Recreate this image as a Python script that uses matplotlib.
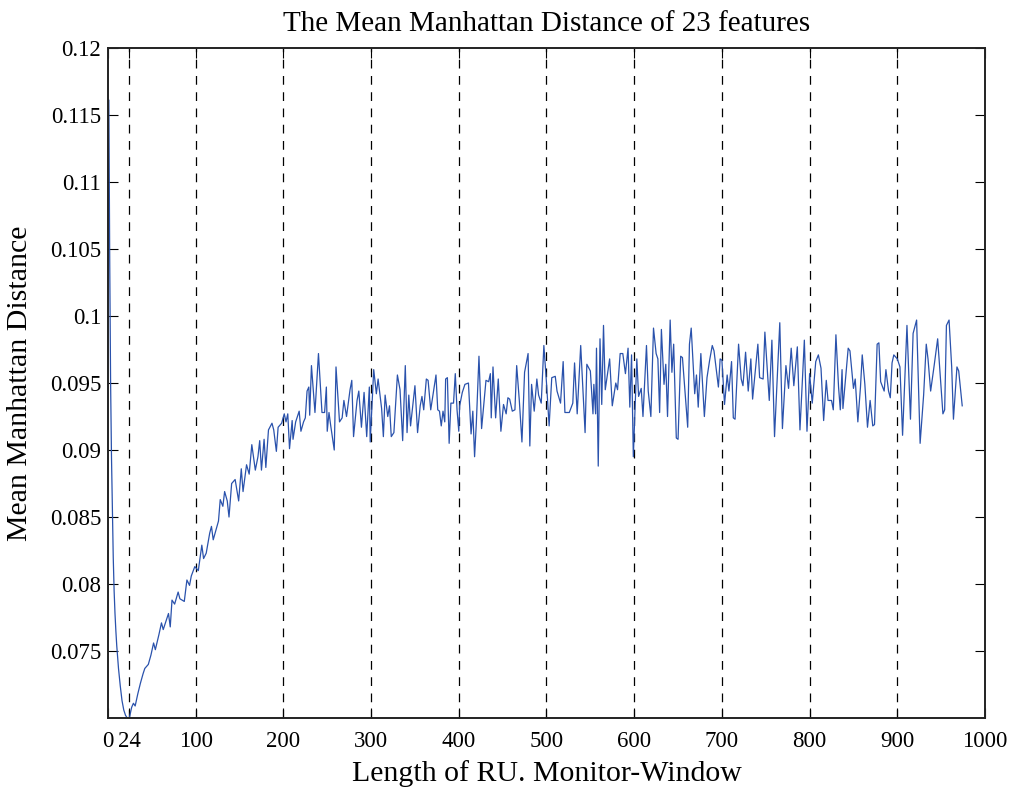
import matplotlib
matplotlib.use("Agg")
import matplotlib.pyplot as plt

plt.rcParams['font.family'] = ['Liberation Serif', 'DejaVu Serif']

# window length and mean Manhattan distance over the 23 features
win_len = [
    1, 2, 3, 4, 5, 6, 7, 8, 9, 10, 11, 12, 14, 16, 18, 20, 22, 24,
    27, 29, 31, 34, 37, 40, 42, 46, 49, 52, 54, 58, 61, 63, 66, 69, 71, 73, 76, 80, 82, 87,
    90, 93, 95, 99, 103, 107, 109, 112, 116, 118, 120, 123, 126, 128, 131, 133, 136, 138,
    141, 145, 149, 152, 154, 158, 161, 164, 168, 171, 173, 175, 178, 180, 183, 187, 189,
    192, 194, 198, 201, 203, 205, 207, 210, 211, 214, 218, 220, 223, 225, 227, 229, 230,
    232, 236, 240, 244, 247, 249, 250, 252, 254, 258, 260, 264, 267, 269, 272, 276, 278,
    280, 284, 286, 289, 292, 295, 298, 299, 303, 306, 308, 312, 314, 316, 319, 321, 323,
    326, 330, 333, 336, 339, 341, 343, 345, 350, 353, 356, 358, 360, 363, 365, 368, 371,
    374, 376, 378, 380, 382, 384, 385, 387, 389, 391, 394, 396, 398, 400, 401, 404, 407,
    411, 414, 416, 418, 420, 423, 426, 431, 434, 436, 437, 439, 442, 445, 448, 451, 454,
    456, 458, 461, 464, 466, 469, 472, 475, 479, 481, 483, 486, 489, 491, 494, 497, 500,
    503, 506, 510, 512, 516, 519, 521, 526, 530, 532, 535, 539, 544, 546, 550, 553, 554,
    556, 557, 559, 561, 563, 565, 567, 572, 575, 579, 581, 584, 587, 590, 593, 595, 597,
    599, 603, 605, 608, 610, 614, 616, 619, 622, 625, 627, 629, 631, 634, 636, 638, 641,
    643, 645, 648, 650, 653, 655, 657, 661, 663, 665, 669, 671, 673, 676, 680, 683, 686,
    689, 691, 696, 698, 700, 703, 706, 708, 711, 713, 715, 719, 722, 724, 727, 730, 733,
    735, 741, 743, 747, 749, 754, 757, 760, 766, 769, 773, 776, 779, 782, 786, 789, 794,
    797, 800, 803, 807, 810, 813, 816, 819, 821, 825, 827, 830, 833, 835, 837, 838, 844,
    846, 850, 852, 855, 858, 860, 863, 866, 869, 872, 874, 877, 879, 881, 885, 887, 890,
    892, 894, 896, 900, 903, 906, 911, 915, 918, 922, 926, 930, 933, 935, 938, 942, 946,
    949, 952, 954, 956, 959, 962, 964, 968, 970, 974,
]
mean_dist = [
    0.1161, 0.1040, 0.0950, 0.0895, 0.0855, 0.0820, 0.0795, 0.0778, 0.0765, 0.0754,
    0.0745, 0.0737, 0.0724, 0.0713, 0.0706, 0.0702, 0.0700, 0.0699,
    0.0708, 0.0711, 0.0709, 0.0718, 0.0726, 0.0733, 0.0737, 0.0740, 0.0747, 0.0756,
    0.0751, 0.0762, 0.0771, 0.0766, 0.0772, 0.0778, 0.0768, 0.0788, 0.0785, 0.0794,
    0.0789, 0.0787, 0.0803, 0.0799, 0.0806, 0.0813, 0.0810, 0.0829, 0.0819, 0.0823,
    0.0838, 0.0843, 0.0833, 0.0840, 0.0847, 0.0863, 0.0858, 0.0869, 0.0862, 0.0850,
    0.0875, 0.0878, 0.0862, 0.0886, 0.0869, 0.0889, 0.0882, 0.0904, 0.0885, 0.0895,
    0.0907, 0.0885, 0.0908, 0.0887, 0.0915, 0.0920, 0.0915, 0.0899, 0.0917, 0.0920,
    0.0927, 0.0921, 0.0927, 0.0901, 0.0922, 0.0908, 0.0921, 0.0929, 0.0914, 0.0921,
    0.0924, 0.0944, 0.0947, 0.0926, 0.0963, 0.0928, 0.0972, 0.0928, 0.0928, 0.0947,
    0.0914, 0.0928, 0.0918, 0.0900, 0.0962, 0.0921, 0.0924, 0.0937, 0.0925, 0.0945,
    0.0952, 0.0910, 0.0937, 0.0944, 0.0917, 0.0943, 0.0910, 0.0947, 0.0906, 0.0960,
    0.0942, 0.0953, 0.0931, 0.0910, 0.0941, 0.0925, 0.0933, 0.0910, 0.0913, 0.0956,
    0.0945, 0.0907, 0.0963, 0.0913, 0.0941, 0.0918, 0.0948, 0.0913, 0.0933, 0.0940,
    0.0930, 0.0953, 0.0952, 0.0930, 0.0943, 0.0956, 0.0930, 0.0929, 0.0918, 0.0929,
    0.0921, 0.0953, 0.0954, 0.0905, 0.0935, 0.0935, 0.0957, 0.0930, 0.0914, 0.0933,
    0.0943, 0.0949, 0.0950, 0.0912, 0.0929, 0.0895, 0.0920, 0.0970, 0.0916, 0.0952,
    0.0951, 0.0957, 0.0924, 0.0962, 0.0924, 0.0953, 0.0914, 0.0934, 0.0927, 0.0939,
    0.0938, 0.0929, 0.0930, 0.0963, 0.0937, 0.0906, 0.0958, 0.0972, 0.0903, 0.0949,
    0.0929, 0.0953, 0.0941, 0.0935, 0.0978, 0.0950, 0.0918, 0.0954, 0.0955, 0.0944,
    0.0935, 0.0966, 0.0928, 0.0928, 0.0935, 0.0965, 0.0927, 0.0978, 0.0913, 0.0964,
    0.0959, 0.0927, 0.0949, 0.0927, 0.0976, 0.0888, 0.0983, 0.0934, 0.0993, 0.0945,
    0.0968, 0.0933, 0.0950, 0.0945, 0.0972, 0.0972, 0.0957, 0.0976, 0.0932, 0.0971,
    0.0895, 0.0968, 0.0940, 0.0946, 0.0925, 0.0978, 0.0944, 0.0925, 0.0991, 0.0972,
    0.0968, 0.0928, 0.0990, 0.0949, 0.0964, 0.0925, 0.0997, 0.0958, 0.0979, 0.0909,
    0.0908, 0.0970, 0.0969, 0.0952, 0.0917, 0.0979, 0.0991, 0.0942, 0.0956, 0.0932,
    0.0972, 0.0925, 0.0954, 0.0967, 0.0978, 0.0974, 0.0947, 0.0968, 0.0967, 0.0934,
    0.0956, 0.0944, 0.0966, 0.0924, 0.0923, 0.0979, 0.0953, 0.0948, 0.0973, 0.0944,
    0.0968, 0.0938, 0.0979, 0.0954, 0.0953, 0.0988, 0.0937, 0.0982, 0.0910, 0.0995,
    0.0916, 0.0963, 0.0946, 0.0976, 0.0948, 0.0977, 0.0915, 0.0982, 0.0914, 0.0957,
    0.0935, 0.0966, 0.0971, 0.0961, 0.0922, 0.0952, 0.0937, 0.0937, 0.0930, 0.0986,
    0.0947, 0.0930, 0.0960, 0.0931, 0.0976, 0.0974, 0.0946, 0.0953, 0.0921, 0.0947,
    0.0971, 0.0949, 0.0917, 0.0937, 0.0918, 0.0919, 0.0979, 0.0980, 0.0951, 0.0944,
    0.0960, 0.0944, 0.0939, 0.0965, 0.0971, 0.0968, 0.0962, 0.0911, 0.0993, 0.0923,
    0.0987, 0.0997, 0.0905, 0.0941, 0.0979, 0.0968, 0.0944, 0.0963, 0.0983, 0.0955,
    0.0927, 0.0930, 0.0993, 0.0997, 0.0962, 0.0923, 0.0962, 0.0959, 0.0933,
]

xticks = [0, 24, 100, 200, 300, 400, 500, 600, 700, 800, 900, 1000]
vlines = [24, 100, 200, 300, 400, 500, 600, 700, 800, 900]
yticks = [0.075, 0.08, 0.085, 0.09, 0.095, 0.1, 0.105, 0.11, 0.115, 0.12]
ytick_labels = ['0.075', '0.08', '0.085', '0.09', '0.095', '0.1',
                '0.105', '0.11', '0.115', '0.12']

fig = plt.figure(figsize=(10.11, 7.94), dpi=100)
ax = fig.add_axes([0.1068, 0.0957, 0.8675, 0.8438])

for v in vlines:
    ax.axvline(v, color='black', linestyle=(0, (7, 6)), linewidth=0.9, zorder=1)

ax.plot(win_len, mean_dist, color='#2a52ac', linewidth=0.9, zorder=2)

ax.set_xlim(0, 1000)
ax.set_ylim(0.07, 0.12)
ax.set_xticks(xticks)
ax.set_xticklabels([str(t) for t in xticks])
ax.set_yticks(yticks)
ax.set_yticklabels(ytick_labels)

ax.tick_params(direction='in', top=True, right=True, length=7, width=0.8,
               labelsize=16.5)
ax.tick_params(axis='y', pad=5)
ax.tick_params(axis='x', pad=9)
for s in ax.spines.values():
    s.set_linewidth(1.4)
    s.set_color('#222222')

ax.set_title('The Mean Manhattan Distance of 23 features', fontsize=21, pad=12)
ax.set_xlabel('Length of RU. Monitor-Window', fontsize=21.5, labelpad=6)
ax.set_ylabel('Mean Manhattan Distance', fontsize=21.5, labelpad=12)

fig.savefig('out.png', dpi=100)
